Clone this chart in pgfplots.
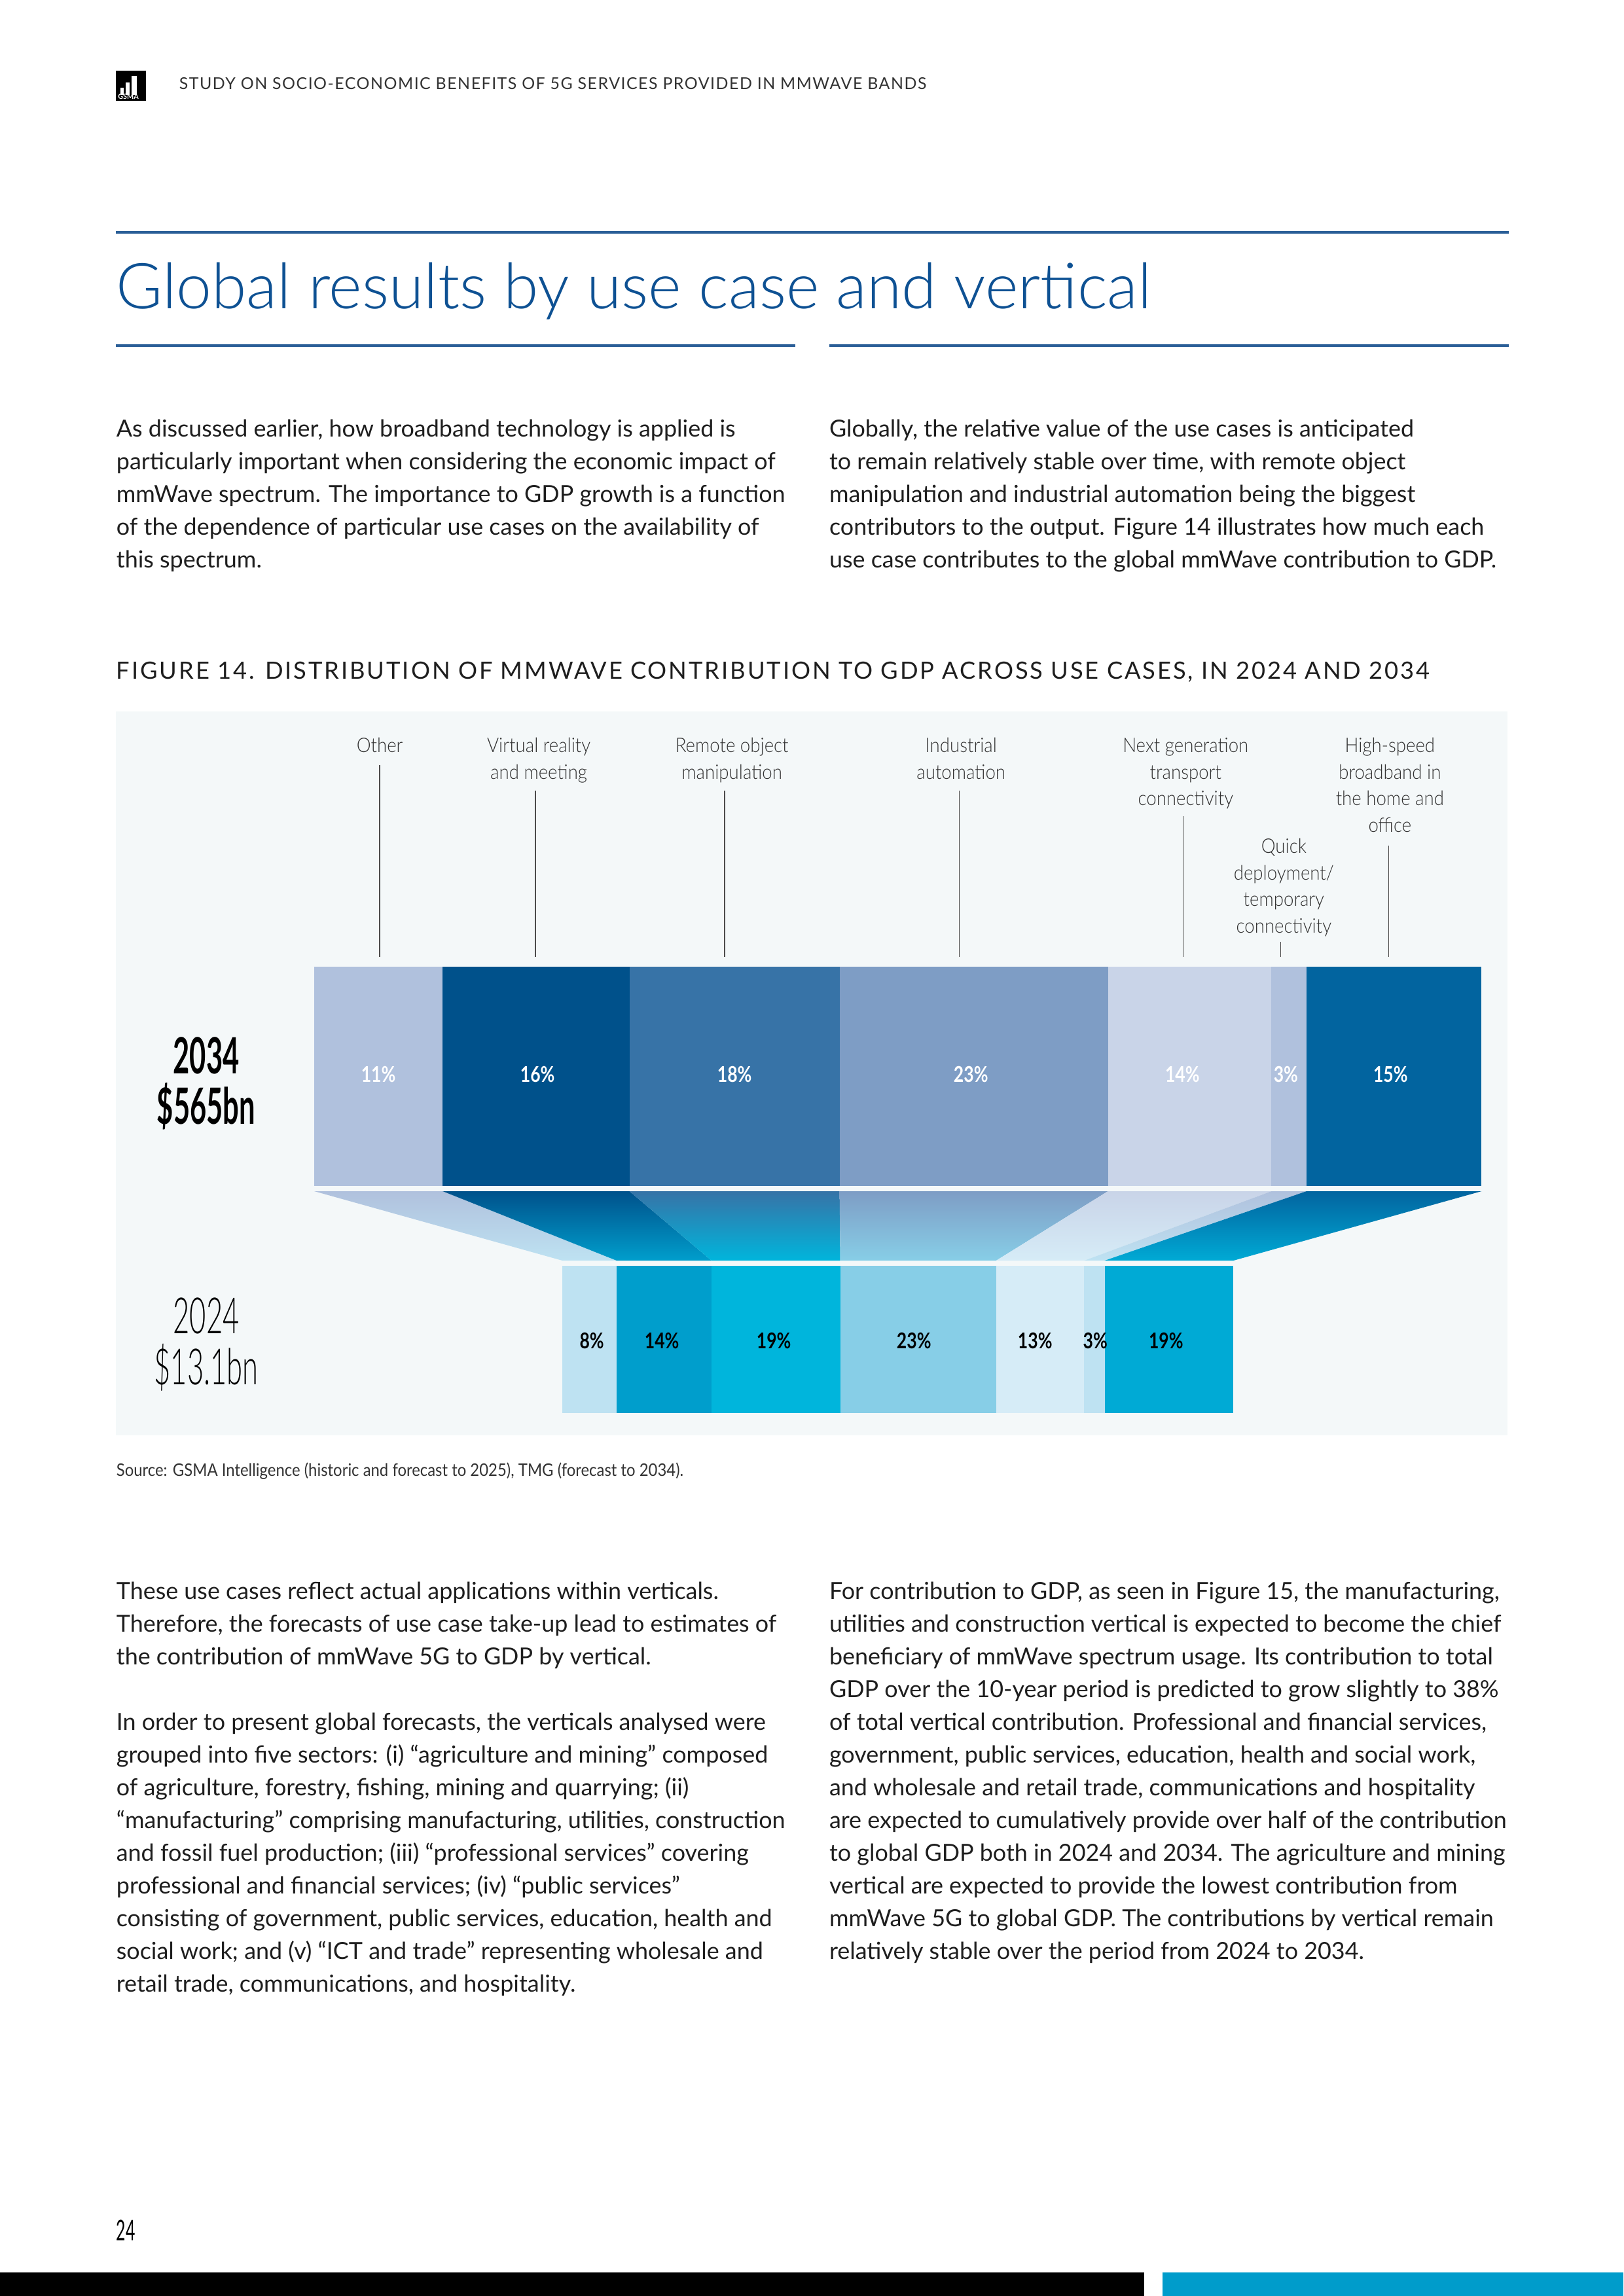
\documentclass[border=0pt]{standalone}
\usepackage{fontspec}
\setmainfont{Lato}
\newfontfamily\latolight{Lato Light}
\newfontfamily\labfam{Lato Light}[FakeStretch=0.9]
\newfontfamily\narrow{Lato}[FakeStretch=0.9]
\newfontfamily\spaced{Lato}[LetterSpace=6]
\newfontfamily\figt{Lato}[LetterSpace=8]
\newfontfamily\cond{Lato}[FakeStretch=0.57]
\newfontfamily\condlight{Lato Light}[FakeStretch=0.57]
\newfontfamily\pctf{Lato}[FakeStretch=0.8]
\usepackage{pgfplots}
\pgfplotsset{compat=1.18}

\definecolor{c1}{HTML}{B0C1DD}
\definecolor{c2}{HTML}{00518B}
\definecolor{c3}{HTML}{3773A7}
\definecolor{c4}{HTML}{7E9DC5}
\definecolor{c5}{HTML}{C9D4E8}
\definecolor{c6}{HTML}{B0C1DD}
\definecolor{c7}{HTML}{02649F}
\definecolor{d1}{HTML}{BEE2F2}
\definecolor{d2}{HTML}{009ECC}
\definecolor{d3}{HTML}{00B5DC}
\definecolor{d4}{HTML}{87CEE7}
\definecolor{d5}{HTML}{D6ECF7}
\definecolor{d6}{HTML}{BEE2F2}
\definecolor{d7}{HTML}{00AAD5}
\definecolor{panel}{HTML}{F4F8F9}
\definecolor{txt}{HTML}{1E1E1E}
\definecolor{labtxt}{HTML}{333333}
\definecolor{titleblue}{HTML}{0E5193}
\definecolor{ruleblue}{HTML}{2A5E97}
\definecolor{footblue}{HTML}{009CCB}

\newcommand{\bodyf}{\fontsize{8.65}{10}\selectfont}
\newcommand{\labf}{\labfam\fontsize{7.4}{9}\selectfont}
\newcommand{\TL}[3]{\node[anchor=base west,inner sep=0pt,font=\bodyf,text=txt] at (axis cs:#1,#2) {#3};}
\newcommand{\LB}[3]{\node[anchor=base,inner sep=0pt,font=\labf,text=labtxt] at (axis cs:#1,#2) {#3};}
\newcommand{\PW}[3]{\node[anchor=base,inner sep=0pt,text=white,font=\pctf\bfseries\fontsize{8}{9}\selectfont] at (axis cs:#1,#2) {#3};}
\newcommand{\PB}[3]{\node[anchor=base,inner sep=0pt,text=black,font=\pctf\bfseries\fontsize{8}{9}\selectfont] at (axis cs:#1,#2) {#3};}

\begin{document}
\begin{tikzpicture}
% ---------------- page axis (pixel coordinates, y downwards) ----------------
\begin{axis}[at={(0,0)}, anchor=south west, scale only axis,
  width=21cm, height=29.7cm, xmin=0, xmax=2480, ymin=0, ymax=3508,
  y dir=reverse, hide axis, clip=false, no markers]
\fill[white] (axis cs:0,0) rectangle (axis cs:2480,3508);
% header
\fill[black] (axis cs:177,108) rectangle (axis cs:223,154);
\fill[white] (axis cs:184,134) rectangle (axis cs:189,145);
\fill[white] (axis cs:192,126) rectangle (axis cs:198,145);
\fill[white] (axis cs:201,116) rectangle (axis cs:209,145);
\node[anchor=base,inner sep=0pt,text=white,font=\bfseries\fontsize{2.6}{3}\selectfont] at (axis cs:196,152) {GSMA};
\node[anchor=base west,inner sep=0pt,text=labtxt,font=\spaced\fontsize{6}{7}\selectfont] at (axis cs:273,137) {STUDY ON SOCIO-ECONOMIC BENEFITS OF 5G SERVICES PROVIDED IN MMWAVE BANDS};
% title and rules
\draw[ruleblue,line width=0.8pt] (axis cs:177,355) -- (axis cs:2305,355);
\node[anchor=base west,inner sep=0pt,text=titleblue,font=\latolight\fontsize{23.3}{28}\selectfont] at (axis cs:177,471) {Global results by use case and vertical};
\draw[ruleblue,line width=0.8pt] (axis cs:177,528) -- (axis cs:1215,528);
\draw[ruleblue,line width=0.8pt] (axis cs:1267,528) -- (axis cs:2305,528);
% top paragraphs
\TL{177}{667}{As discussed earlier, how broadband technology is applied is}
\TL{177}{717}{particularly important when considering the economic impact of}
\TL{177}{767}{mmWave spectrum. The importance to GDP growth is a function}
\TL{177}{817}{of the dependence of particular use cases on the availability of}
\TL{177}{867}{this spectrum.}
\TL{1266}{667}{Globally, the relative value of the use cases is anticipated}
\TL{1266}{717}{to remain relatively stable over time, with remote object}
\TL{1266}{767}{manipulation and industrial automation being the biggest}
\TL{1266}{817}{contributors to the output. Figure 14 illustrates how much each}
\TL{1266}{867}{use case contributes to the global mmWave contribution to GDP.}
% figure title
\node[anchor=base west,inner sep=0pt,text=txt,font=\figt\fontsize{8.75}{9}\selectfont] at (axis cs:177,1037) {FIGURE 14. DISTRIBUTION OF MMWAVE CONTRIBUTION TO GDP ACROSS USE CASES, IN 2024 AND 2034};
% panel
\fill[panel] (axis cs:177,1087) rectangle (axis cs:2303,2193);
% category labels and leader lines
\LB{580}{1149}{Other}
\LB{823}{1149}{Virtual reality}
\LB{823}{1190}{and meeting}
\LB{1118}{1149}{Remote object}
\LB{1118}{1190}{manipulation}
\LB{1468}{1149}{Industrial}
\LB{1468}{1190}{automation}
\LB{1811}{1149}{Next generation}
\LB{1811}{1190}{transport}
\LB{1811}{1230}{connectivity}
\LB{2123}{1149}{High-speed}
\LB{2123}{1190}{broadband in}
\LB{2123}{1230}{the home and}
\LB{2123}{1271}{office}
\LB{1961}{1303}{Quick}
\LB{1961}{1344}{deployment/}
\LB{1961}{1384}{temporary}
\LB{1961}{1425}{connectivity}
\draw[gray!60!black,line width=0.35pt] (axis cs:580,1169) -- (axis cs:580,1462);
\draw[gray!60!black,line width=0.35pt] (axis cs:818,1208) -- (axis cs:818,1462);
\draw[gray!60!black,line width=0.35pt] (axis cs:1107,1208) -- (axis cs:1107,1462);
\draw[gray!60!black,line width=0.35pt] (axis cs:1465,1208) -- (axis cs:1465,1462);
\draw[gray!60!black,line width=0.35pt] (axis cs:1807,1247) -- (axis cs:1807,1462);
\draw[gray!60!black,line width=0.35pt] (axis cs:2121,1292) -- (axis cs:2121,1462);
\draw[gray!60!black,line width=0.35pt] (axis cs:1956,1439) -- (axis cs:1956,1462);
% funnel between the two years
\addplot[draw=none, top color=c1, bottom color=d1] coordinates {(480,1820) (676.1,1820) (941.8,1926) (859,1926)};
\addplot[draw=none, top color=c2, bottom color=d2] coordinates {(676.1,1820) (961.4,1820) (1086.8,1926) (941.8,1926)};
\addplot[draw=none, top color=c3, bottom color=d3] coordinates {(961.4,1820) (1282.4,1820) (1283.5,1926) (1086.8,1926)};
\addplot[draw=none, top color=c4, bottom color=d4] coordinates {(1282.4,1820) (1692.4,1820) (1521.6,1926) (1283.5,1926)};
\addplot[draw=none, top color=c5, bottom color=d5] coordinates {(1692.4,1820) (1942.1,1820) (1656.2,1926) (1521.6,1926)};
\addplot[draw=none, top color=c6, bottom color=d6] coordinates {(1942.1,1820) (1995.6,1820) (1687.3,1926) (1656.2,1926)};
\addplot[draw=none, top color=c7, bottom color=d7] coordinates {(1995.6,1820) (2263,1820) (1884,1926) (1687.3,1926)};
% year labels
\node[anchor=base,inner sep=0pt,text=black,font=\cond\bfseries\fontsize{18.4}{20}\selectfont] at (axis cs:315,1640) {2034};
\node[anchor=base,inner sep=0pt,text=black,font=\cond\bfseries\fontsize{18.4}{20}\selectfont] at (axis cs:315,1717) {\$565bn};
\node[anchor=base,inner sep=0pt,text=black,font=\condlight\fontsize{18.4}{20}\selectfont] at (axis cs:315,2037) {2024};
\node[anchor=base,inner sep=0pt,text=black,font=\condlight\fontsize{18.4}{20}\selectfont] at (axis cs:315,2115) {\$13.1bn};
% source
\node[anchor=base west,inner sep=0pt,text=labtxt,font=\narrow\fontsize{6.4}{8}\selectfont] at (axis cs:177,2255) {Source: GSMA Intelligence (historic and forecast to 2025), TMG (forecast to 2034).};
% lower paragraphs
\TL{177}{2443}{These use cases reflect actual applications within verticals.}
\TL{177}{2493}{Therefore, the forecasts of use case take-up lead to estimates of}
\TL{177}{2543}{the contribution of mmWave 5G to GDP by vertical.}
\TL{177}{2643}{In order to present global forecasts, the verticals analysed were}
\TL{177}{2693}{grouped into five sectors: (i) “agriculture and mining” composed}
\TL{177}{2743}{of agriculture, forestry, fishing, mining and quarrying; (ii)}
\TL{177}{2793}{“manufacturing” comprising manufacturing, utilities, construction}
\TL{177}{2843}{and fossil fuel production; (iii) “professional services” covering}
\TL{177}{2893}{professional and financial services; (iv) “public services”}
\TL{177}{2943}{consisting of government, public services, education, health and}
\TL{177}{2993}{social work; and (v) “ICT and trade” representing wholesale and}
\TL{177}{3043}{retail trade, communications, and hospitality.}
\TL{1266}{2443}{For contribution to GDP, as seen in Figure 15, the manufacturing,}
\TL{1266}{2493}{utilities and construction vertical is expected to become the chief}
\TL{1266}{2543}{beneficiary of mmWave spectrum usage. Its contribution to total}
\TL{1266}{2593}{GDP over the 10-year period is predicted to grow slightly to 38\%}
\TL{1266}{2643}{of total vertical contribution. Professional and financial services,}
\TL{1266}{2693}{government, public services, education, health and social work,}
\TL{1266}{2743}{and wholesale and retail trade, communications and hospitality}
\TL{1266}{2793}{are expected to cumulatively provide over half of the contribution}
\TL{1266}{2843}{to global GDP both in 2024 and 2034. The agriculture and mining}
\TL{1266}{2893}{vertical are expected to provide the lowest contribution from}
\TL{1266}{2943}{mmWave 5G to global GDP. The contributions by vertical remain}
\TL{1266}{2993}{relatively stable over the period from 2024 to 2034.}
% footer
\node[anchor=base west,inner sep=0pt,text=black,font=\cond\fontsize{10.5}{12}\selectfont] at (axis cs:177,3423) {24};
\fill[black] (axis cs:0,3472) rectangle (axis cs:1748,3508);
\fill[footblue] (axis cs:1776,3472) rectangle (axis cs:2480,3508);
\end{axis}

% ---------------- 2034 stacked bar ----------------
\begin{axis}[at={(4.0645cm,14.3613cm)}, anchor=south west, scale only axis,
  width=15.098cm, height=2.8367cm, xmin=0, xmax=100, ymin=-0.5, ymax=0.5,
  hide axis, clip=false, xbar stacked, bar width=2.8367cm, no markers]
\addplot[fill=c1, draw=none] coordinates {(11,0)};
\addplot[fill=c2, draw=none] coordinates {(16,0)};
\addplot[fill=c3, draw=none] coordinates {(18,0)};
\addplot[fill=c4, draw=none] coordinates {(23,0)};
\addplot[fill=c5, draw=none] coordinates {(14,0)};
\addplot[fill=c6, draw=none] coordinates {(3,0)};
\addplot[fill=c7, draw=none] coordinates {(15,0)};
\end{axis}

% ---------------- 2024 stacked bar ----------------
\begin{axis}[at={(7.2737cm,11.4229cm)}, anchor=south west, scale only axis,
  width=8.6794cm, height=1.9052cm, xmin=0, xmax=99, ymin=-0.5, ymax=0.5,
  hide axis, clip=false, xbar stacked, bar width=1.9052cm, no markers]
\addplot[fill=d1, draw=none] coordinates {(8,0)};
\addplot[fill=d2, draw=none] coordinates {(14,0)};
\addplot[fill=d3, draw=none] coordinates {(19,0)};
\addplot[fill=d4, draw=none] coordinates {(23,0)};
\addplot[fill=d5, draw=none] coordinates {(13,0)};
\addplot[fill=d6, draw=none] coordinates {(3,0)};
\addplot[fill=d7, draw=none] coordinates {(19,0)};
\end{axis}

% ---------------- overlay for the percentage labels ----------------
\begin{axis}[at={(0,0)}, anchor=south west, scale only axis,
  width=21cm, height=29.7cm, xmin=0, xmax=2480, ymin=0, ymax=3508,
  y dir=reverse, hide axis, clip=false, no markers]
\PW{578}{1653}{11\%}
\PW{821}{1653}{16\%}
\PW{1122}{1653}{18\%}
\PW{1483}{1653}{23\%}
\PW{1806}{1653}{14\%}
\PW{1964}{1653}{3\%}
\PW{2124}{1653}{15\%}
\PB{904}{2060}{8\%}
\PB{1011}{2060}{14\%}
\PB{1182}{2060}{19\%}
\PB{1396}{2060}{23\%}
\PB{1581}{2060}{13\%}
\PB{1673}{2060}{3\%}
\PB{1781}{2060}{19\%}
\end{axis}
\end{tikzpicture}
\end{document}
